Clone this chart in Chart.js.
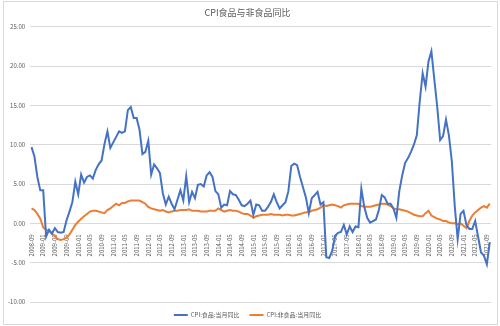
<!DOCTYPE html>
<html>
<head>
  <meta charset="utf-8">
  <title>CPI食品与非食品同比</title>
  <script src="https://cdn.jsdelivr.net/npm/chart.js"></script>
  <style>
    body { margin: 0; background: #fff; }
    #wrap { position: relative; width: 500px; height: 326px; }
    #frame { position: absolute; left: 3px; top: 1px; width: 493px; height: 322px; border: 1px solid #d9d9d9; pointer-events: none; }
  </style>
</head>
<body>
  <div id="wrap">
    <canvas id="cpiChart" width="500" height="326"></canvas>
    <div id="frame"></div>
  </div>

  <script>
    // monthly series, 2008-09 .. 2021-10
    const firstYear = 2008;
    const firstMonth = 9;

    const foodYoY = [
      9.7, 8.5, 5.9, 4.2,
      4.2, -1.7, -0.8, -1.3, -0.6, -1.1, -1.2, -1.1, 0.4, 1.5, 2.7, 5.3,
      3.7, 6.2, 5.2, 5.9, 6.1, 5.7, 6.8, 7.5, 8.0, 10.1, 11.7, 9.6,
      10.3, 11.0, 11.7, 11.5, 11.7, 14.4, 14.8, 13.4, 13.4, 11.9, 8.8, 9.1,
      10.5, 6.2, 7.5, 7.0, 6.4, 3.8, 2.4, 3.4, 2.5, 1.8, 3.0, 4.2,
      2.9, 6.0, 2.7, 4.0, 3.2, 4.9, 5.0, 4.7, 6.1, 6.5, 5.9, 4.1,
      3.7, 2.0, 2.4, 2.3, 4.1, 3.7, 3.6, 3.0, 2.3, 2.2, 2.5, 2.9,
      1.1, 2.4, 2.3, 1.6, 1.6, 2.1, 2.7, 3.7, 2.7, 1.9, 2.3, 2.7,
      4.1, 7.3, 7.6, 7.4, 5.9, 4.6, 3.3, 1.3, 3.2, 3.6, 4.0, 2.4,
      2.7, -4.3, -4.4, -3.5, -1.6, -1.2, -1.1, -0.2, -1.4, -0.4, -1.1, -0.4,
      -0.5, 4.4, 2.1, 0.7, 0.1, 0.3, 0.5, 1.7, 3.6, 3.3, 2.5, 2.5,
      1.9, 0.7, 4.1, 6.1, 7.7, 8.3, 9.1, 10.0, 11.2, 15.5, 19.1, 17.4,
      20.6, 21.9, 18.3, 14.8, 10.6, 11.1, 13.2, 11.2, 7.9, 2.2, -2.0, 1.2,
      1.6, -0.2, -0.7, -0.7, 0.3, -1.7, -3.7, -4.1, -5.2, -2.4
    ];

    const nonFoodYoY = [
      1.9, 1.7, 1.2, 0.6,
      -0.5, -0.8, -1.0, -1.3, -1.6, -2.0, -2.1, -2.0, -1.8, -1.4, -0.8, -0.2,
      0.2, 0.6, 0.9, 1.2, 1.5, 1.6, 1.6, 1.5, 1.4, 1.3, 1.7, 1.9,
      2.2, 2.5, 2.3, 2.6, 2.6, 2.8, 2.9, 2.9, 2.9, 2.9, 2.7, 2.5,
      2.1, 1.9, 1.8, 1.7, 1.6, 1.7, 1.5, 1.4, 1.5, 1.6, 1.6, 1.7,
      1.7, 1.7, 1.8, 1.6, 1.6, 1.6, 1.5, 1.5, 1.5, 1.6, 1.6, 1.6,
      1.9, 1.7, 1.5, 1.6, 1.7, 1.6, 1.6, 1.5, 1.3, 1.2, 1.2, 1.0,
      0.7, 0.9, 1.0, 1.1, 1.1, 1.1, 1.2, 1.1, 1.1, 1.1, 1.0, 1.1,
      1.1, 1.0, 1.0, 1.1, 1.2, 1.3, 1.4, 1.4, 1.6, 1.7, 1.8, 2.0,
      2.3, 2.2, 2.3, 2.4, 2.3, 2.2, 2.0, 2.3, 2.4, 2.5, 2.5, 2.5,
      2.5, 2.2, 2.1, 2.1, 2.1, 2.2, 2.3, 2.4, 2.5, 2.5, 2.4, 2.2,
      1.9, 1.8, 1.8, 1.7, 1.6, 1.5, 1.3, 1.1, 1.0, 0.9, 0.9, 1.3,
      1.6, 1.0, 0.8, 0.6, 0.5, 0.3, 0.3, 0.1, 0.0, 0.0, -0.1, 0.0,
      -0.3, -0.6, 0.3, 1.0, 1.4, 1.7, 2.0, 2.2, 2.0, 2.5
    ];

    // category labels "YYYY-MM"
    const months = [];
    for (let i = 0; i < foodYoY.length; i++) {
      const m = firstMonth - 1 + i;
      const y = firstYear + Math.floor(m / 12);
      months.push(y + '-' + String(m % 12 + 1).padStart(2, '0'));
    }

    const seriesNames = ['CPI:食品:当月同比', 'CPI:非食品:当月同比'];
    const yTicks = { min: -10, max: 25, step: 5 };

    const textColor = '#595959';
    const gridColor = '#d9d9d9';

    Chart.defaults.font.family = '"Noto Sans CJK SC", "Noto Sans", sans-serif';
    Chart.defaults.color = textColor;

    function lineDataset(label, data, color) {
      return {
        label,
        data,
        borderColor: color,
        backgroundColor: color,
        borderWidth: 2,
        pointRadius: 0,
        tension: 0,
        fill: false
      };
    }

    const cpiChart = new Chart(document.getElementById('cpiChart'), {
      type: 'line',
      data: {
        labels: months,
        datasets: [
          lineDataset(seriesNames[0], foodYoY, '#4472C4'),
          lineDataset(seriesNames[1], nonFoodYoY, '#ED7D31')
        ]
      },
      options: {
        responsive: false,
        animation: false,
        devicePixelRatio: 1,
        layout: { padding: { top: 7, left: 3, right: 8, bottom: -2 } },
        plugins: {
          title: {
            display: true,
            text: 'CPI食品与非食品同比',
            color: textColor,
            font: { size: 9, weight: 'normal' },
            padding: { top: 0, bottom: 9 }
          },
          legend: {
            position: 'bottom',
            labels: {
              boxWidth: 14,
              boxHeight: 2,
              padding: 10,
              color: textColor,
              font: { size: 6 },
              generateLabels: chart =>
                Chart.defaults.plugins.legend.labels.generateLabels(chart)
                  .map(item => ({ ...item, lineWidth: 0, fillStyle: item.strokeStyle }))
            }
          },
          tooltip: { enabled: false }
        },
        scales: {
          x: {
            type: 'category',
            position: { y: 0 },
            offset: true,
            grid: { display: false },
            border: { display: false },
            ticks: {
              autoSkip: false,
              minRotation: 90,
              maxRotation: 90,
              padding: 3,
              color: textColor,
              font: { size: 6 },
              callback: (val, idx) => (idx % 4 === 0 ? months[idx] : '')
            }
          },
          y: {
            min: yTicks.min,
            max: yTicks.max,
            grid: { color: gridColor, drawTicks: false },
            border: { display: false },
            ticks: {
              stepSize: yTicks.step,
              padding: 5,
              color: textColor,
              font: { size: 6 },
              callback: v => v.toFixed(2)
            }
          }
        }
      }
    });
  </script>
</body>
</html>
